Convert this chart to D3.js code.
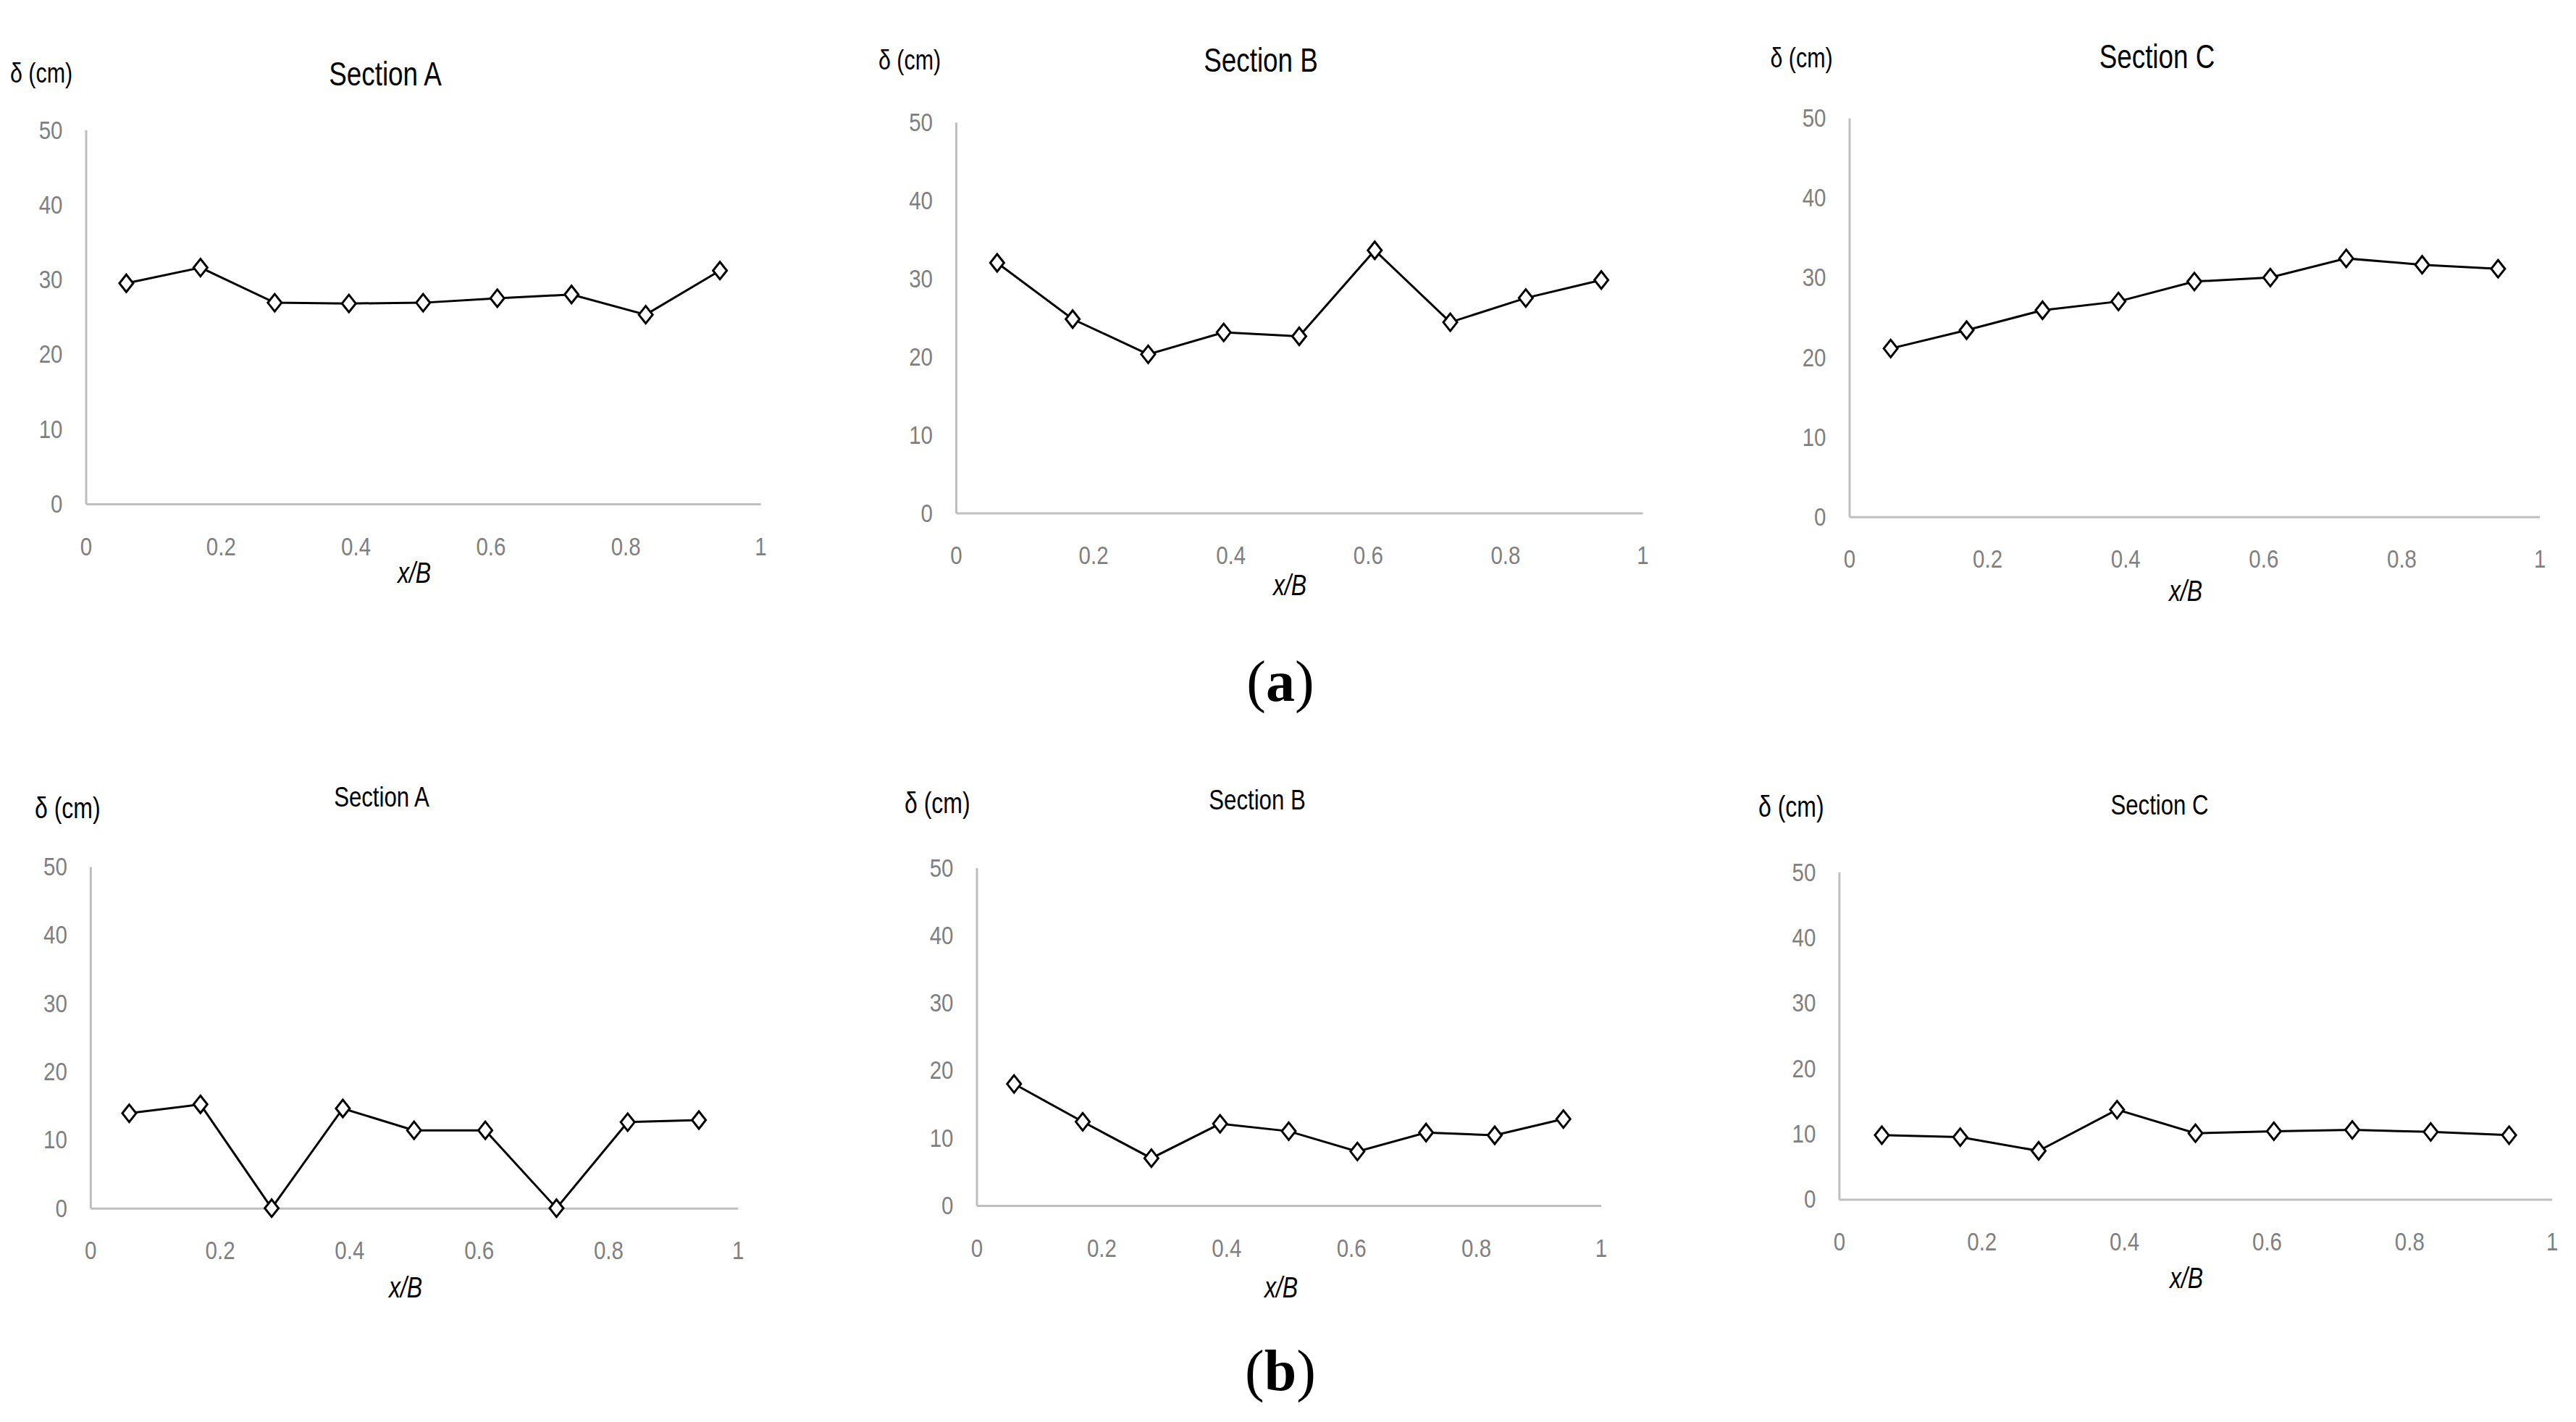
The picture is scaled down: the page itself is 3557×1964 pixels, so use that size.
<!DOCTYPE html>
<html>
<head>
<meta charset="utf-8">
<script src="https://cdn.jsdelivr.net/npm/d3@7"></script>
<style>
  body { margin: 0; background: #fff; }
  svg { display: block; }
</style>
</head>
<body>
<svg id="chart"></svg>
<script>
// Data
const xPositions = [0.06, 0.17, 0.28, 0.39, 0.5, 0.61, 0.72, 0.83, 0.94];
const sectionNames = ["Section A", "Section B", "Section C"];
const yTicks = [0, 10, 20, 30, 40, 50];
const xTicks = [0, 0.2, 0.4, 0.6, 0.8, 1];
const groupLabels = ["a", "b"];

// (a) row
const deltaA_a = [29.5, 31.6, 26.9, 26.8, 26.9, 27.5, 28.0, 25.3, 31.2];
const deltaB_a = [32.0, 24.8, 20.3, 23.1, 22.6, 33.6, 24.4, 27.5, 29.8];
const deltaC_a = [21.1, 23.4, 25.9, 27.0, 29.5, 30.0, 32.4, 31.6, 31.1];
// (b) row
const deltaA_b = [13.9, 15.2, 0, 14.6, 11.4, 11.4, 0, 12.6, 12.9];
const deltaB_b = [18.0, 12.4, 7.0, 12.1, 11.0, 8.0, 10.8, 10.4, 12.8];
const deltaC_b = [9.8, 9.5, 7.4, 13.7, 10.1, 10.4, 10.6, 10.3, 9.8];

const rowSeries = [[deltaA_a, deltaB_a, deltaC_a], [deltaA_b, deltaB_b, deltaC_b]];

// Panel layout (page pixels)
const layouts = [
  [
    { L: 118.5, R: 1050, T: 179.5, B: 696, tx: 532, ty: 101.5, tSize: 46, dx: 14, dy: 101, dSize: 38, lx: 572, ly: 791 },
    { L: 1320, R: 2268, T: 168.7, B: 708.5, tx: 1741, ty: 83, tSize: 46, dx: 1213, dy: 83, dSize: 38, lx: 1781, ly: 808 },
    { L: 2553.5, R: 3506.6, T: 163, B: 713.8, tx: 2978.5, ty: 78, tSize: 46, dx: 2444.5, dy: 80, dSize: 38, lx: 3018, ly: 816 }
  ],
  [
    { L: 124.8, R: 1018.7, T: 1197, B: 1668.7, tx: 527, ty: 1100, tSize: 39, dx: 48, dy: 1116, dSize: 40, lx: 560, ly: 1778 },
    { L: 1348.5, R: 2210.5, T: 1198.5, B: 1665, tx: 1736, ty: 1104, tSize: 39, dx: 1249, dy: 1109, dSize: 40, lx: 1769, ly: 1778 },
    { L: 2539.4, R: 3523.7, T: 1204.6, B: 1656.4, tx: 2982, ty: 1111, tSize: 39, dx: 2428, dy: 1114, dSize: 40, lx: 3019, ly: 1765 }
  ]
];
const groupLabelPos = [{ x: 1768, y: 968 }, { x: 1768, y: 1920 }];

const width = 3557, height = 1964;
const font = "'Liberation Sans', Arial, sans-serif";
const squeeze = 0.8;      // narrow look of the original labels
const tickSqueeze = 0.82;

const svg = d3.select("#chart")
  .attr("width", width)
  .attr("height", height);

// diamond marker, slightly taller than wide
const diamond = "M0,-12 L9.5,0 L0,12 L-9.5,0 Z";

function label(g, x, y, size, anchor, txt, italic) {
  return g.append("text")
    .attr("transform", `translate(${x},${y}) scale(${squeeze},1)`)
    .attr("dy", "0.35em")
    .attr("text-anchor", anchor)
    .attr("font-family", font)
    .attr("font-size", size)
    .attr("font-style", italic ? "italic" : "normal")
    .attr("fill", "#000")
    .text(txt);
}

rowSeries.forEach((series, r) => {
  series.forEach((values, c) => {
    const p = layouts[r][c];
    const g = svg.append("g");

    const x = d3.scaleLinear().domain([0, 1]).range([p.L, p.R]);
    const y = d3.scaleLinear().domain([0, 50]).range([p.B, p.T]);

    // Y axis
    const yAxis = g.append("g")
      .attr("transform", `translate(${p.L},0)`)
      .call(d3.axisLeft(y).tickValues(yTicks).tickSize(0).tickSizeOuter(0));
    yAxis.select(".domain").attr("stroke", "#bfbfbf").attr("stroke-width", 3);
    yAxis.selectAll("text")
      .attr("x", -32 / tickSqueeze)
      .attr("transform", `scale(${tickSqueeze},1)`)
      .attr("font-family", font)
      .attr("font-size", 36)
      .attr("fill", "#7f7f7f");

    // X axis
    const xAxis = g.append("g")
      .attr("transform", `translate(0,${p.B})`)
      .call(d3.axisBottom(x).tickValues(xTicks).tickSize(0).tickSizeOuter(0).tickFormat(d3.format("~g")));
    xAxis.select(".domain").attr("stroke", "#bfbfbf").attr("stroke-width", 3);
    xAxis.selectAll("text")
      .attr("y", 58)
      .attr("dy", "0.35em")
      .attr("transform", `scale(${tickSqueeze},1)`)
      .attr("font-family", font)
      .attr("font-size", 36)
      .attr("fill", "#7f7f7f");

    // Line
    const line = d3.line()
      .x((d, i) => x(xPositions[i]))
      .y(d => y(d));
    g.append("path")
      .datum(values)
      .attr("d", line)
      .attr("fill", "none")
      .attr("stroke", "#000")
      .attr("stroke-width", 3);

    // Markers
    g.selectAll(".pt")
      .data(values)
      .enter()
      .append("path")
      .attr("class", "pt")
      .attr("d", diamond)
      .attr("transform", (d, i) => `translate(${x(xPositions[i])},${y(d)})`)
      .attr("fill", "#fff")
      .attr("stroke", "#000")
      .attr("stroke-width", 3);

    label(g, p.tx, p.ty, p.tSize, "middle", sectionNames[c], false);
    label(g, p.dx, p.dy, p.dSize, "start", "δ (cm)", false);
    label(g, p.lx, p.ly, 40, "middle", "x/B", true);
  });

  // Group label (a) / (b)
  const gl = svg.append("text")
    .attr("x", groupLabelPos[r].x)
    .attr("y", groupLabelPos[r].y)
    .attr("text-anchor", "middle")
    .attr("font-family", "'Liberation Serif', 'Times New Roman', serif")
    .attr("font-size", 80)
    .attr("fill", "#000");
  gl.append("tspan").text("(");
  gl.append("tspan").attr("font-weight", "bold").text(groupLabels[r]);
  gl.append("tspan").text(")");
});
</script>
</body>
</html>
